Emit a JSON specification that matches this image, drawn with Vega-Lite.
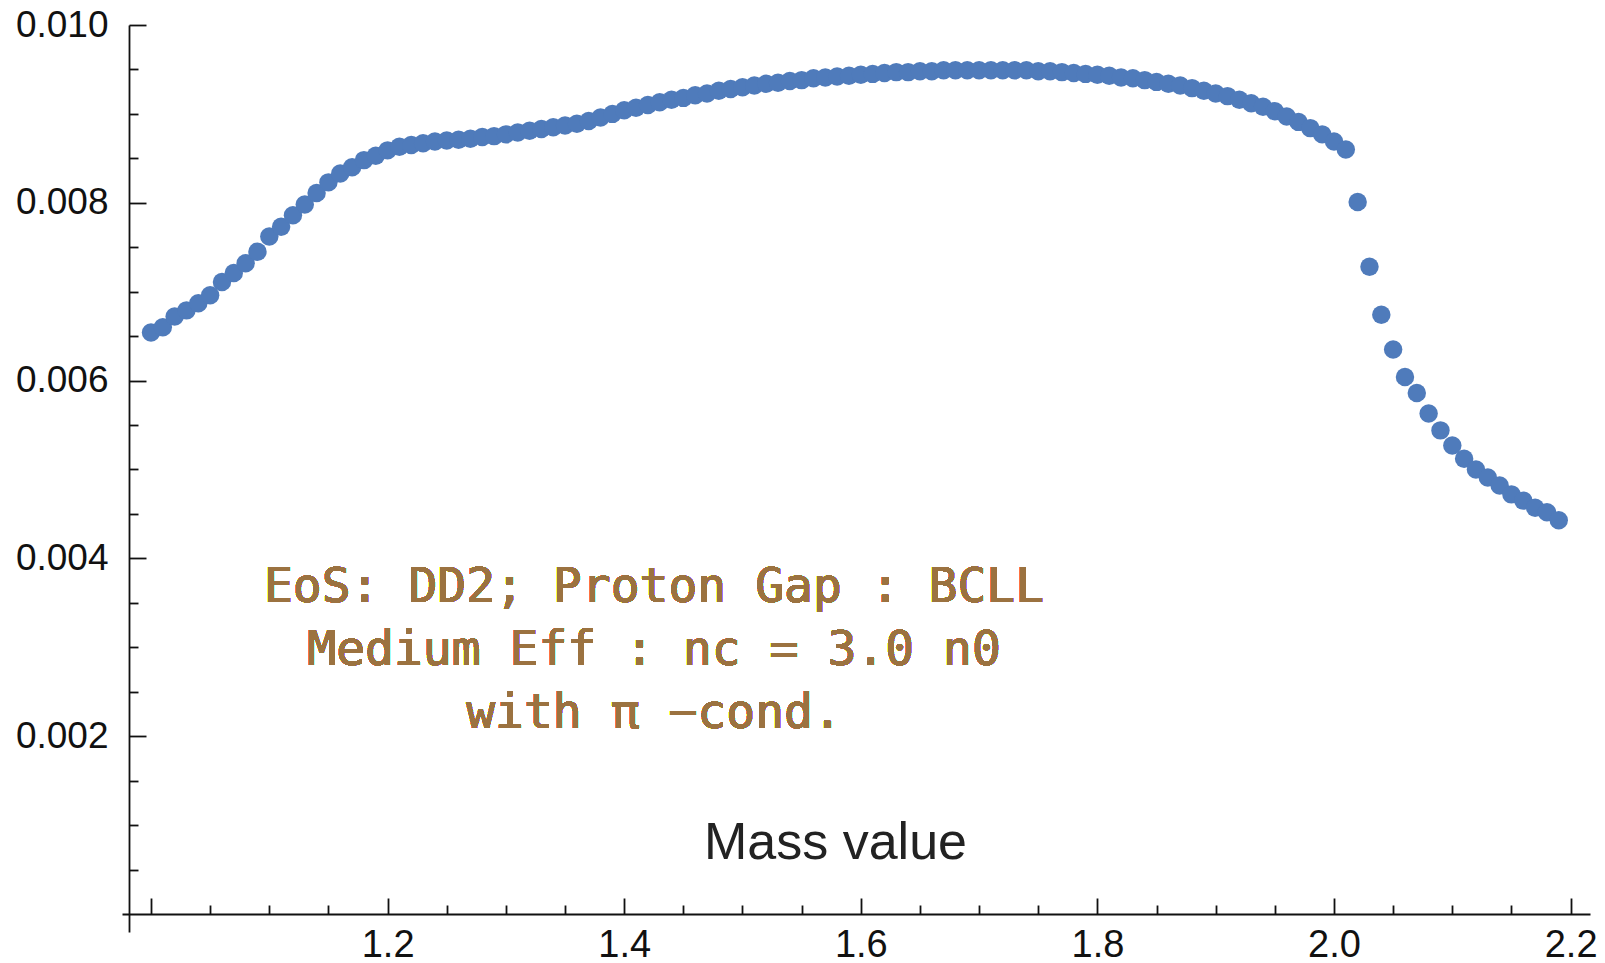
{
  "$schema": "https://vega.github.io/schema/vega-lite/v6.json",
  "autosize": "none",
  "width": 1468,
  "height": 907,
  "padding": {"left": 122, "top": 25, "right": 15, "bottom": 31},
  "background": "white",
  "config": {"view": {"stroke": null}},
  "data": {"values": [
    {"m": 1.00, "v": 0.00654}, {"m": 1.01, "v": 0.00660}, {"m": 1.02, "v": 0.00672}, {"m": 1.03, "v": 0.00679},
    {"m": 1.04, "v": 0.00687}, {"m": 1.05, "v": 0.00696}, {"m": 1.06, "v": 0.00711}, {"m": 1.07, "v": 0.00721},
    {"m": 1.08, "v": 0.00732}, {"m": 1.09, "v": 0.00745}, {"m": 1.10, "v": 0.00762}, {"m": 1.11, "v": 0.00773},
    {"m": 1.12, "v": 0.00786}, {"m": 1.13, "v": 0.00798}, {"m": 1.14, "v": 0.00811}, {"m": 1.15, "v": 0.00823},
    {"m": 1.16, "v": 0.00833}, {"m": 1.17, "v": 0.00840}, {"m": 1.18, "v": 0.00848}, {"m": 1.19, "v": 0.00853},
    {"m": 1.20, "v": 0.00859}, {"m": 1.21, "v": 0.00863}, {"m": 1.22, "v": 0.00865}, {"m": 1.23, "v": 0.00867},
    {"m": 1.24, "v": 0.00869}, {"m": 1.25, "v": 0.00870}, {"m": 1.26, "v": 0.00871}, {"m": 1.27, "v": 0.00872},
    {"m": 1.28, "v": 0.00874}, {"m": 1.29, "v": 0.00875}, {"m": 1.30, "v": 0.00877}, {"m": 1.31, "v": 0.00879},
    {"m": 1.32, "v": 0.00881}, {"m": 1.33, "v": 0.00883}, {"m": 1.34, "v": 0.00885}, {"m": 1.35, "v": 0.00887},
    {"m": 1.36, "v": 0.00889}, {"m": 1.37, "v": 0.00892}, {"m": 1.38, "v": 0.00896}, {"m": 1.39, "v": 0.00900},
    {"m": 1.40, "v": 0.00904}, {"m": 1.41, "v": 0.00907}, {"m": 1.42, "v": 0.00910}, {"m": 1.43, "v": 0.00913},
    {"m": 1.44, "v": 0.00916}, {"m": 1.45, "v": 0.00918}, {"m": 1.46, "v": 0.00921}, {"m": 1.47, "v": 0.00923},
    {"m": 1.48, "v": 0.00926}, {"m": 1.49, "v": 0.00928}, {"m": 1.50, "v": 0.00930}, {"m": 1.51, "v": 0.00932},
    {"m": 1.52, "v": 0.00934}, {"m": 1.53, "v": 0.00935}, {"m": 1.54, "v": 0.00937}, {"m": 1.55, "v": 0.00938},
    {"m": 1.56, "v": 0.00940}, {"m": 1.57, "v": 0.00941}, {"m": 1.58, "v": 0.00942}, {"m": 1.59, "v": 0.00943},
    {"m": 1.60, "v": 0.00944}, {"m": 1.61, "v": 0.00945}, {"m": 1.62, "v": 0.00946}, {"m": 1.63, "v": 0.00947},
    {"m": 1.64, "v": 0.00947}, {"m": 1.65, "v": 0.00948}, {"m": 1.66, "v": 0.00948}, {"m": 1.67, "v": 0.00949},
    {"m": 1.68, "v": 0.00949}, {"m": 1.69, "v": 0.00949}, {"m": 1.70, "v": 0.00949}, {"m": 1.71, "v": 0.00949},
    {"m": 1.72, "v": 0.00949}, {"m": 1.73, "v": 0.00949}, {"m": 1.74, "v": 0.00949}, {"m": 1.75, "v": 0.00948},
    {"m": 1.76, "v": 0.00948}, {"m": 1.77, "v": 0.00947}, {"m": 1.78, "v": 0.00946}, {"m": 1.79, "v": 0.00945},
    {"m": 1.80, "v": 0.00944}, {"m": 1.81, "v": 0.00943}, {"m": 1.82, "v": 0.00941}, {"m": 1.83, "v": 0.00940},
    {"m": 1.84, "v": 0.00938}, {"m": 1.85, "v": 0.00936}, {"m": 1.86, "v": 0.00934}, {"m": 1.87, "v": 0.00932},
    {"m": 1.88, "v": 0.00929}, {"m": 1.89, "v": 0.00926}, {"m": 1.90, "v": 0.00923}, {"m": 1.91, "v": 0.00920},
    {"m": 1.92, "v": 0.00916}, {"m": 1.93, "v": 0.00912}, {"m": 1.94, "v": 0.00908}, {"m": 1.95, "v": 0.00903},
    {"m": 1.96, "v": 0.00897}, {"m": 1.97, "v": 0.00891}, {"m": 1.98, "v": 0.00884}, {"m": 1.99, "v": 0.00877},
    {"m": 2.00, "v": 0.00869}, {"m": 2.01, "v": 0.00860}, {"m": 2.02, "v": 0.00801}, {"m": 2.03, "v": 0.00728},
    {"m": 2.04, "v": 0.00674}, {"m": 2.05, "v": 0.00635}, {"m": 2.06, "v": 0.00604}, {"m": 2.07, "v": 0.00586},
    {"m": 2.08, "v": 0.00563}, {"m": 2.09, "v": 0.00544}, {"m": 2.10, "v": 0.00527}, {"m": 2.11, "v": 0.00512},
    {"m": 2.12, "v": 0.00500}, {"m": 2.13, "v": 0.00491}, {"m": 2.14, "v": 0.00482}, {"m": 2.15, "v": 0.00472},
    {"m": 2.16, "v": 0.00465}, {"m": 2.17, "v": 0.00457}, {"m": 2.18, "v": 0.00452}, {"m": 2.19, "v": 0.00443}
  ]},
  "layer": [
    {
      "mark": {"type": "circle", "size": 340, "color": "#4f7bbb", "opacity": 1},
      "encoding": {
        "x": {
          "field": "m", "type": "quantitative",
          "scale": {"domain": [0.97549, 2.2164], "nice": false, "zero": false},
          "axis": {
            "orient": "bottom", "offset": -18, "grid": false,
            "values": [1.0, 1.05, 1.1, 1.15, 1.2, 1.25, 1.3, 1.35, 1.4, 1.45, 1.5, 1.55, 1.6, 1.65, 1.7, 1.75, 1.8, 1.85, 1.9, 1.95, 2.0, 2.05, 2.1, 2.15, 2.2],
            "labelExpr": "(round(datum.value*20) % 4 == 0 && datum.value > 1.05) ? format(datum.value, '.1f') : ''",
            "labelFlush": false, "labelOverlap": false, "labelBound": false,
            "labelFont": "Liberation Sans", "labelFontSize": 38, "labelColor": "#111111",
            "labelPadding": 28,
            "tickSize": {"condition": {"test": "round(datum.value*20) % 4 == 0", "value": -16}, "value": -9},
            "tickColor": "#111111", "tickWidth": 1.8,
            "domainColor": "#111111", "domainWidth": 1.8,
            "title": "Mass value",
            "titleFont": "Liberation Sans", "titleFontSize": 52, "titleFontWeight": "normal", "titleColor": "#222222",
            "titleAlign": "center", "titleBaseline": "alphabetic", "titleAnchor": "start",
            "titleX": 713, "titleY": -56
          }
        },
        "y": {
          "field": "v", "type": "quantitative",
          "scale": {"domain": [-0.0002025, 0.010], "nice": false, "zero": false},
          "axis": {
            "orient": "left", "offset": -7, "grid": false,
            "values": [0.0005, 0.001, 0.0015, 0.002, 0.0025, 0.003, 0.0035, 0.004, 0.0045, 0.005, 0.0055, 0.006, 0.0065, 0.007, 0.0075, 0.008, 0.0085, 0.009, 0.0095, 0.010],
            "labelExpr": "round(datum.value*2000) % 4 == 0 ? format(datum.value, '.3f') : ''",
            "labelFlush": false, "labelOverlap": false, "labelBound": false,
            "labelFont": "Liberation Sans", "labelFontSize": 37, "labelColor": "#111111",
            "labelPadding": 38,
            "tickSize": {"condition": {"test": "round(datum.value*2000) % 4 == 0", "value": -17}, "value": -9},
            "tickColor": "#111111", "tickWidth": 1.8,
            "domainColor": "#111111", "domainWidth": 1.8,
            "title": null
          }
        }
      }
    },
    {
      "mark": {"type": "text", "font": "DejaVu Sans Mono", "fontSize": 48, "color": "#9b7240", "align": "center", "baseline": "alphabetic", "lineHeight": 63},
      "encoding": {
        "x": {"datum": 1.4252, "type": "quantitative"},
        "y": {"datum": 0.00351, "type": "quantitative"},
        "text": {"value": ["EoS: DD2; Proton Gap : BCLL", "Medium Eff : nc = 3.0 n0", "with π −cond."]}
      }
    }
  ]
}
